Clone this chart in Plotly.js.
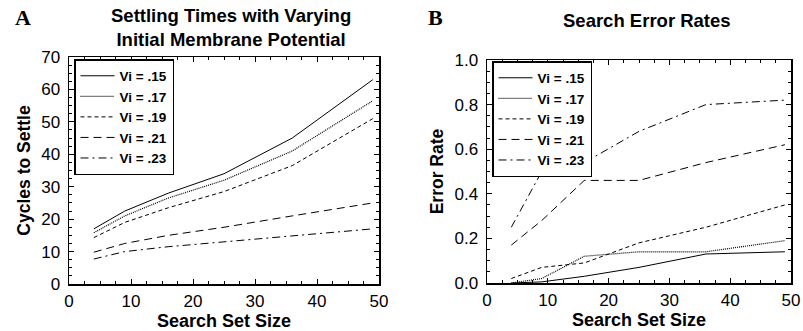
<!DOCTYPE html>
<html><head><meta charset="utf-8">
<script src="https://cdn.plot.ly/plotly-3.0.1.min.js"></script>
<style>body{margin:0;padding:0;background:#fff}#plot{width:803px;height:331px}</style>
</head><body><div id="plot"></div>
<script>
const setSizes = [4, 9, 16, 25, 36, 49];
const seriesNames = ["Vi = .15", "Vi = .17", "Vi = .19", "Vi = .21", "Vi = .23"];
const cycles15 = [17, 22.5, 28, 34, 45, 63];
const cycles17 = [15.8, 21, 26.5, 32, 41, 56.5];
const cycles19 = [14.3, 19, 23.5, 28.5, 36.5, 51];
const cycles21 = [9.8, 12.5, 15, 17.5, 21, 25];
const cycles23 = [7.7, 10, 11.5, 13, 14.8, 17];
const err15 = [0, 0.005, 0.03, 0.07, 0.13, 0.14];
const err17 = [0, 0.02, 0.12, 0.14, 0.14, 0.19];
const err19 = [0.02, 0.07, 0.09, 0.18, 0.25, 0.35];
const err21 = [0.17, 0.28, 0.46, 0.46, 0.54, 0.62];
const err23 = [0.25, 0.50, 0.54, 0.68, 0.80, 0.82];

const dashes = ["solid", "1px,1px", "4px,3px", "8px,5px", "8px,4px,2px,4px"];
const widths = [1, 1.2, 1, 1, 1];
const cyc = [cycles15, cycles17, cycles19, cycles21, cycles23];
const err = [err15, err17, err19, err21, err23];

const traces = [];
cyc.forEach((ys, i) => traces.push({x: setSizes, y: ys, name: seriesNames[i], mode: 'lines',
  line: {color: '#000', width: widths[i], dash: dashes[i]}, xaxis: 'x', yaxis: 'y', legend: 'legend'}));
err.forEach((ys, i) => traces.push({x: setSizes, y: ys, name: seriesNames[i], mode: 'lines',
  line: {color: '#000', width: widths[i], dash: dashes[i]}, xaxis: 'x2', yaxis: 'y2', legend: 'legend2'}));

const W = 803, H = 331;
const px = v => v / W, py = v => 1 - v / H;
const FAM = 'Liberation Sans, Arial, sans-serif';
const tickFont = {family: FAM, size: 17, color: '#000'};
const xTitleFont = {family: FAM, size: 18, color: '#000', weight: 'bold'};
const yTitleFont = {family: FAM, size: 17.5, color: '#000', weight: 'bold'};
const titleFont = {family: FAM, size: 18.5, color: '#000', weight: 'bold'};
const legFont = {family: FAM, size: 13.5, color: '#000', weight: 'bold'};

function axis(domain, range, dtick, minorDt, extra) {
  return Object.assign({domain: domain, range: range, dtick: dtick, tick0: 0,
    ticks: 'inside', ticklen: 5, tickwidth: 1, tickcolor: '#000', mirror: 'ticks',
    showline: true, linecolor: '#000', linewidth: 1.5, showgrid: false, zeroline: false,
    tickfont: tickFont, fixedrange: true,
    minor: {dtick: minorDt, ticks: 'inside', ticklen: 3, tickcolor: '#000', tickwidth: 1, showgrid: false}}, extra || {});
}

const layout = {
  width: W, height: H, margin: {l: 0, r: 0, t: 0, b: 0},
  paper_bgcolor: '#fff', plot_bgcolor: '#fff', showlegend: true,
  xaxis: axis([px(69), px(379)], [0, 50], 10, 2.5, {anchor: 'y', ticklabelstandoff: 1,
    title: {text: 'Search Set Size', font: xTitleFont, standoff: 2}}),
  yaxis: axis([py(284), py(57)], [0, 70], 10, 2.5, {anchor: 'x', ticklabelstandoff: 4,
    title: {text: 'Cycles to Settle', font: yTitleFont, standoff: 6}}),
  xaxis2: axis([px(487), px(791)], [0, 50], 10, 2.5, {anchor: 'y2', ticklabelstandoff: 1,
    title: {text: 'Search Set Size', font: xTitleFont, standoff: 2}}),
  yaxis2: axis([py(283), py(60)], [0, 1], 0.2, 0.05, {anchor: 'x2', tickformat: '.1f', ticklabelstandoff: 4,
    title: {text: 'Error Rate', font: yTitleFont, standoff: 6}}),
  legend: {x: px(74), y: py(59), xanchor: 'left', yanchor: 'top', bgcolor: '#fff',
    bordercolor: '#000', borderwidth: 1.5, font: legFont, tracegroupgap: 0, itemwidth: 34,
    traceorder: 'normal'},
  legend2: {x: px(492), y: py(61), xanchor: 'left', yanchor: 'top', bgcolor: '#fff',
    bordercolor: '#000', borderwidth: 1.5, font: legFont, tracegroupgap: 0, itemwidth: 34,
    traceorder: 'normal'},
  annotations: [
    {text: 'A', x: px(13), y: py(18), xref: 'paper', yref: 'paper', xanchor: 'left', yanchor: 'middle', showarrow: false,
      font: {family: 'Liberation Serif, Times New Roman, serif', size: 22, color: '#000', weight: 'bold'}},
    {text: 'B', x: px(426), y: py(18), xref: 'paper', yref: 'paper', xanchor: 'left', yanchor: 'middle', showarrow: false,
      font: {family: 'Liberation Serif, Times New Roman, serif', size: 22, color: '#000', weight: 'bold'}},
    {text: 'Settling Times with Varying<br>Initial Membrane Potential', x: px(231), y: py(28), xref: 'paper', yref: 'paper',
      xanchor: 'center', yanchor: 'middle', showarrow: false, font: titleFont},
    {text: 'Search Error Rates', x: px(647), y: py(20), xref: 'paper', yref: 'paper',
      xanchor: 'center', yanchor: 'middle', showarrow: false, font: titleFont}
  ]
};

Plotly.newPlot('plot', traces, layout, {displayModeBar: false, staticPlot: true});
</script></body></html>
